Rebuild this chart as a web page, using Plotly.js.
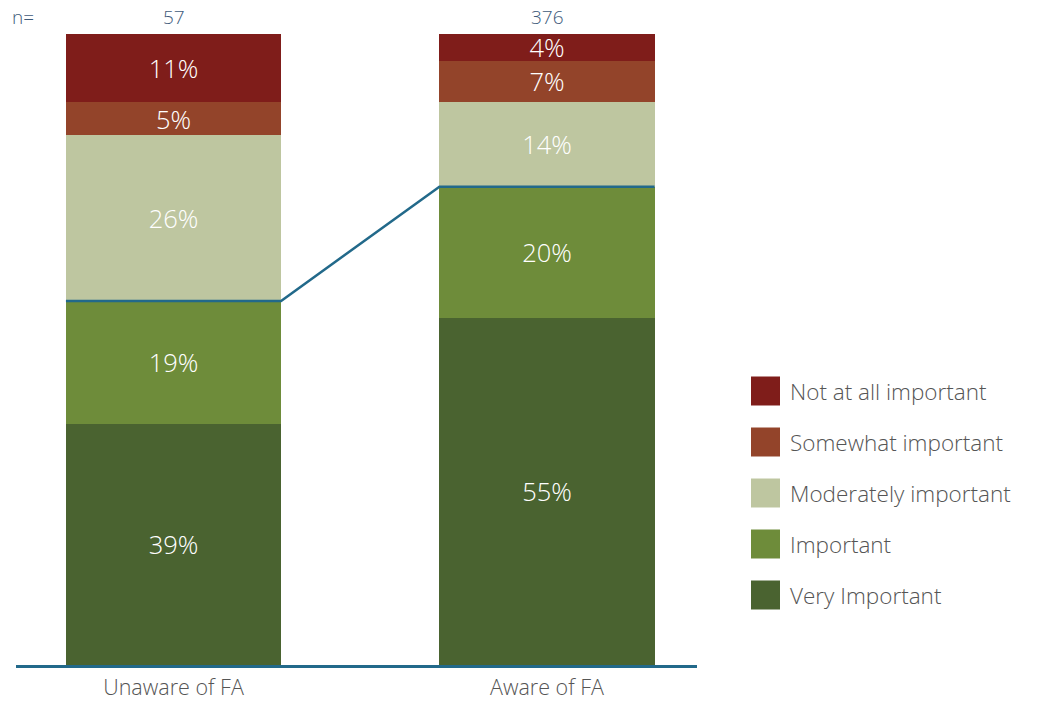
<!DOCTYPE html>
<html>
<head>
<meta charset="utf-8">
<script src="https://cdn.plot.ly/plotly-3.0.1.min.js"></script>
<style>html,body{margin:0;padding:0;background:#fff;}#chart{width:1039px;height:703px;}</style>
</head>
<body>
<div id="chart"></div>
<script>
var groups = ["Unaware of FA", "Aware of FA"];
var sampleSizes = ["57", "376"];
var seriesNames = ["Very Important", "Important", "Moderately important", "Somewhat important", "Not at all important"];
var seriesColors = ["#4a6330", "#6e8c3a", "#bec6a0", "#93442a", "#7f1d1a"];
var unawareValues = [38.2, 19.5, 26.3, 5.2, 10.8];
var awareValues = [55.0, 20.8, 13.5, 6.5, 4.2];
var unawareLabels = ["39%", "19%", "26%", "5%", "11%"];
var awareLabels = ["55%", "20%", "14%", "7%", "4%"];

var FONT = "'Open Sans', Lato, sans-serif";
var barWidth = 0.576;
var xs = [0, 1];
var traces = [];
for (var i = 0; i < seriesNames.length; i++) {
  traces.push({
    type: "bar",
    name: seriesNames[i],
    x: xs,
    y: [unawareValues[i], awareValues[i]],
    text: [unawareLabels[i], awareLabels[i]],
    textposition: "inside",
    insidetextanchor: "middle",
    constraintext: "none",
    textangle: 0,
    textfont: {family: FONT, size: 25.5, color: "#ffffff", weight: 300},
    marker: {color: seriesColors[i], line: {width: 0}},
    width: barWidth,
    showlegend: false,
    hoverinfo: "skip"
  });
}
// connecting line on top of "Important" segment
var cumU = unawareValues[0] + unawareValues[1];
var cumA = awareValues[0] + awareValues[1];
var hw = barWidth / 2;
traces.push({
  type: "scatter", mode: "lines",
  x: [0 - hw, 0 + hw, 1 - hw, 1 + hw],
  y: [cumU, cumU, cumA, cumA],
  line: {color: "#22698a", width: 2.5},
  showlegend: false, hoverinfo: "skip", cliponaxis: false
});

var shapes = [];
var annotations = [];
annotations.push({xref: "paper", yref: "paper", x: -0.009, y: 1, yshift: 17, xanchor: "left", yanchor: "middle",
  text: "n=", showarrow: false, font: {family: FONT, size: 19, color: "#3e5a7a", weight: 300}});
for (var g = 0; g < groups.length; g++) {
  annotations.push({xref: "x", yref: "paper", x: xs[g], y: 1, yshift: 17, xanchor: "center", yanchor: "middle",
    text: sampleSizes[g], showarrow: false, font: {family: FONT, size: 19, color: "#3e5a7a", weight: 300}});
}
// manual legend (top = last series)
var legTop = 391, legStep = 51;
for (var k = 0; k < seriesNames.length; k++) {
  var idx = seriesNames.length - 1 - k;
  var cy = legTop + k * legStep;
  shapes.push({type: "rect", xref: "paper", yref: "paper", layer: "above",
    x0: (751 - 16) / 681, x1: (780 - 16) / 681,
    y0: (665 - (cy + 14.5)) / 631, y1: (665 - (cy - 14.5)) / 631,
    fillcolor: seriesColors[idx], line: {width: 0}});
  annotations.push({xref: "paper", yref: "paper", x: (788 - 16) / 681, y: (665 - cy) / 631,
    xanchor: "left", yanchor: "middle", text: seriesNames[idx], showarrow: false,
    font: {family: FONT, size: 22.5, color: "#555555", weight: 300}});
}

var layout = {
  width: 1039, height: 703,
  margin: {l: 16, r: 342, t: 34, b: 38},
  paper_bgcolor: "#ffffff", plot_bgcolor: "#ffffff",
  barmode: "stack",
  showlegend: false,
  xaxis: {
    range: [-0.4217, 1.4016],
    tickvals: xs, ticktext: groups,
    showgrid: false, zeroline: false,
    showline: true, linecolor: "#22698a", linewidth: 2.5,
    ticks: "", ticklen: 0, ticklabelstandoff: 2,
    tickfont: {family: FONT, size: 21.5, color: "#555555", weight: 300},
    fixedrange: true
  },
  yaxis: {
    range: [0, 100], visible: false, showgrid: false, zeroline: false, fixedrange: true
  },
  shapes: shapes,
  annotations: annotations
};
Plotly.newPlot("chart", traces, layout, {displayModeBar: false, staticPlot: true});
</script>
</body>
</html>
